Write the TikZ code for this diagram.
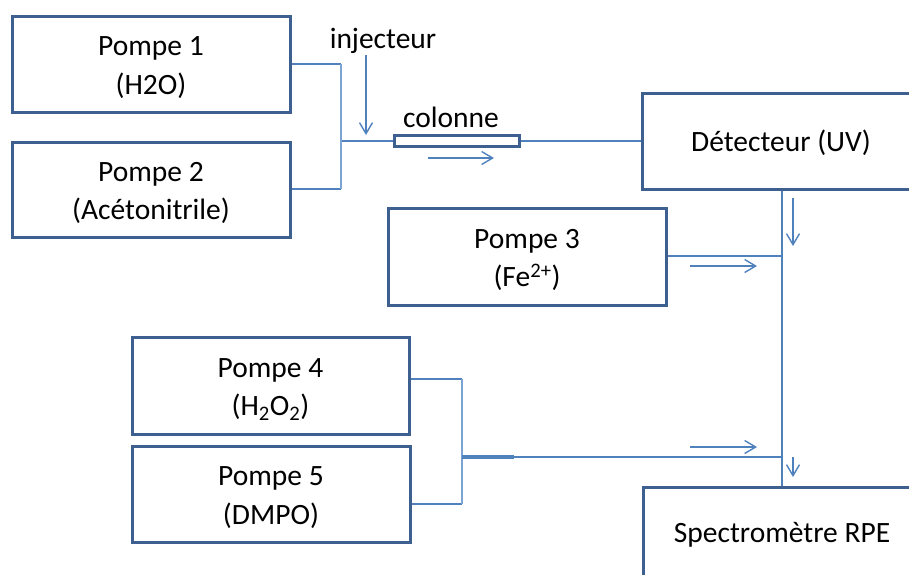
\documentclass[tikz,border=0pt]{standalone}
\usepackage{fontspec}
\setmainfont{Carlito}
\usetikzlibrary{arrows.meta}
\definecolor{boxblue}{HTML}{3E6091}
\definecolor{lineblue}{HTML}{4F81BD}
\definecolor{lightblue}{HTML}{7BA3D4}
\newcommand\pumptext[1]{\raisebox{-3.5pt}[\height][\depth]{\begin{tabular}{@{}c@{}}#1\end{tabular}}}
\begin{document}
\begin{tikzpicture}[x=1pt,y=-1pt,
  every node/.style={font=\fontsize{29.5}{38.5}\selectfont, text=black},
  pumpbox/.style={draw=boxblue, line width=3pt, fill=white, minimum width=278pt, minimum height=96pt, align=center, inner sep=0pt},
  pipe/.style={draw=lineblue, line width=2pt},
  pipelight/.style={draw=lightblue, line width=2pt},
  flow/.style={draw=lineblue, line width=1.4pt, -{Straight Barb[length=11pt,width=13pt,line width=1.4pt]}},
  lbl/.style={anchor=base, inner sep=0pt}
]
\useasboundingbox (0,0) rectangle (909,574);
\begin{scope}
\clip (0,0) rectangle (909,574);
% boxes
\node[pumpbox] (p1) at (151,64) {\pumptext{Pompe 1\\(H2O)}};
\node[pumpbox, minimum height=95pt] (p2) at (151,189.5) {\pumptext{Pompe 2\\(Acétonitrile)}};
\node[pumpbox, minimum height=97pt] (p3) at (527,256.5) {\pumptext{Pompe 3\\(Fe\textsuperscript{2+})}};
\node[pumpbox, minimum height=97pt, minimum width=277pt] (p4) at (270.5,385.5) {\pumptext{Pompe 4\\(H\textsubscript{2}O\textsubscript{2})}};
\node[pumpbox] (p5) at (271,494) {\pumptext{Pompe 5\\(DMPO)}};
\node[pumpbox, text depth=-6pt] (det) at (781,141) {Détecteur (UV)};
\node[pumpbox, text depth=6pt] (rpe) at (782,535) {Spectromètre RPE};
% junction coordinates
\coordinate (j1) at (341,64);
\coordinate (j2) at (341,189);
\coordinate (jm) at (341,141);
\coordinate (j4) at (462,379);
\coordinate (j5) at (462,504);
\coordinate (jl) at (462,457);
\coordinate (jt) at (514,457);
\coordinate (v3) at (782,256);
\coordinate (vl) at (782,457);
% colonne
\node[draw=boxblue, line width=3pt, fill=white, minimum width=125pt, minimum height=11pt, inner sep=0pt] (col) at (456.5,141) {};
\draw[pipe] (jm) -- (col.west);
\draw[pipe] (col.east) -- (det.west);
% pumps 1-2
\draw[pipe] (p1.east) -- (j1);
\draw[pipe] (p2.east |- j2) -- (j2);
\draw[pipelight] (j1) -- (j2);
% pump 3 & vertical
\draw[pipe] (det.south -| v3) -- (rpe.north -| v3);
\draw[pipe] (p3.east |- v3) -- (v3);
% pumps 4-5
\draw[pipe] (p4.east |- j4) -- (j4);
\draw[pipe] (p5.east |- j5) -- (j5);
\draw[pipelight] (j4) -- (j5);
\draw[pipe] (jl) -- (vl);
\draw[draw=lineblue, line width=3.5pt] (jl) -- (jt);
% labels
\node[lbl] (inj) at (383,48) {injecteur};
\node[lbl] (coll) at (451,127) {colonne};
% flow arrows
\coordinate (a1s) at (366,55); \coordinate (a1e) at (366,135);
\draw[flow] (a1s) -- (a1e);
\coordinate (a2s) at (428,158); \coordinate (a2e) at (494,158);
\draw[flow] (a2s) -- (a2e);
\coordinate (a3s) at (793,198); \coordinate (a3e) at (793,246);
\draw[flow] (a3s) -- (a3e);
\coordinate (a4s) at (690,266); \coordinate (a4e) at (757,266);
\draw[flow] (a4s) -- (a4e);
\coordinate (a5s) at (690,447); \coordinate (a5e) at (757,447);
\draw[flow] (a5s) -- (a5e);
\coordinate (a6s) at (793,457); \coordinate (a6e) at (793,477);
\draw[flow] (a6s) -- (a6e);
\end{scope}
\end{tikzpicture}
\end{document}
